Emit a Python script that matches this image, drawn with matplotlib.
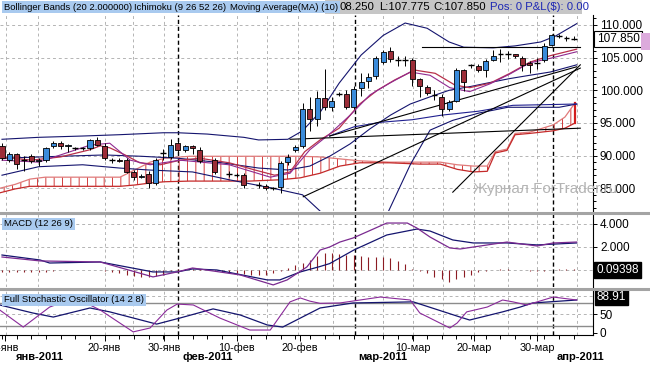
import matplotlib
matplotlib.use("Agg")
import matplotlib.pyplot as plt
from matplotlib.patches import Rectangle
from matplotlib.lines import Line2D

plt.rcParams['font.family'] = ['Liberation Sans', 'DejaVu Sans']
plt.rcParams['hatch.linewidth'] = 0.7
plt.rcParams['hatch.color'] = '#d23c3c'

# ---- candles (bar index, open, high, low, close) ----
bar_idx = [0, 1, 2, 3, 4, 5, 6, 7, 8, 9, 10, 11, 12, 13, 14, 15, 16, 17, 18, 19,
           20, 21, 22, 23, 24, 25, 26, 27, 29, 31, 32, 33, 35, 36, 37, 38, 39, 40,
           41, 42, 43, 44, 45, 46, 47, 48, 49, 50, 51, 52, 53, 54, 55, 56, 57, 58,
           59, 60, 61, 62, 63, 64, 65, 66, 67, 68, 69, 70, 71, 72, 73, 74, 75, 76,
           77, 78]
opens = [91.4, 89.3, 90.2, 89.3, 90.0, 89.1, 89.4, 91.4, 92.0, 91.4, 91.1, 91.1, 91.1, 92.4,
         91.5, 89.4, 89.4, 89.4, 87.5, 86.7, 87.2, 85.8, 90.4, 89.8, 91.9, 90.8, 91.4, 90.9,
         89.3, 87.2, 87.0, 87.0, 85.5, 85.3, 85.0, 85.2, 89.0, 90.9, 91.5, 97.1, 95.6, 98.8,
         97.5, 99.4, 99.4, 97.5, 100.3, 101.5, 102.2, 104.4, 106.0, 104.6, 104.7, 104.7, 101.7,
         100.5, 99.3, 99.0, 97.1, 98.4, 103.1, 103.8, 103.7, 103.1, 104.7, 105.5, 105.5, 105.5,
         105.0, 104.2, 104.2, 104.6, 107.0, 108.3, 108.0, 107.8]
highs = [91.9, 90.5, 90.4, 90.0, 90.3, 89.6, 91.3, 92.3, 92.2, 91.8, 91.3, 91.3, 92.6, 92.8,
         91.9, 89.7, 89.6, 89.7, 87.8, 87.2, 87.6, 89.6, 91.0, 92.6, 92.2, 91.6, 91.7, 91.3,
         89.6, 87.6, 87.3, 87.3, 85.9, 85.6, 85.2, 89.2, 90.3, 91.6, 98.0, 98.9, 99.9, 103.3,
         99.0, 99.8, 100.0, 100.6, 102.7, 102.7, 105.2, 106.2, 106.7, 105.3, 105.3, 104.9, 101.9,
         100.8, 100.1, 99.4, 98.5, 103.4, 103.3, 104.0, 104.1, 104.8, 106.1, 106.4, 106.0, 105.6,
         105.3, 104.5, 104.9, 107.3, 108.6, 108.6, 108.3, 108.25]
lows = [89.3, 89.0, 87.9, 87.6, 88.8, 88.4, 89.0, 91.2, 91.0, 90.5, 90.9, 90.9, 90.9, 91.5,
        89.3, 88.9, 89.0, 87.3, 86.3, 86.5, 85.1, 85.5, 89.4, 89.5, 90.5, 90.5, 90.2, 88.8,
        87.2, 86.7, 86.8, 85.0, 85.0, 84.7, 84.8, 84.3, 88.5, 90.6, 91.2, 93.7, 94.6, 97.0,
        96.8, 99.1, 97.1, 97.2, 99.2, 100.3, 101.8, 104.0, 104.4, 103.7, 103.7, 100.6, 99.0,
        99.3, 98.5, 96.0, 96.9, 98.2, 99.9, 103.4, 102.8, 102.0, 104.5, 104.4, 104.8, 105.0,
        102.9, 102.6, 103.3, 104.3, 106.8, 108.0, 107.6, 107.775]
closes = [89.6, 90.2, 88.7, 89.3, 89.1, 89.3, 91.1, 92.0, 91.4, 91.6, 91.1, 91.1, 92.4, 91.7,
          89.6, 89.4, 89.2, 87.5, 86.7, 86.9, 85.8, 89.3, 90.4, 91.7, 90.9, 91.4, 91.1, 89.1,
          87.5, 87.2, 87.0, 85.5, 85.5, 85.0, 85.0, 88.9, 89.8, 91.3, 97.1, 95.6, 98.8, 97.5,
          98.3, 99.4, 97.5, 100.2, 101.3, 102.0, 104.9, 105.9, 104.8, 104.6, 104.7, 101.8, 100.6,
          99.6, 99.3, 97.1, 98.2, 103.1, 101.3, 103.8, 103.1, 104.5, 105.3, 105.5, 105.5, 105.2,
          103.8, 103.9, 104.2, 106.8, 108.4, 108.3, 108.0, 107.85]

# ---- indicator lines ----
bb_up_x = [0, 5, 11, 16, 22, 24, 28, 33, 35, 39, 41, 43.5, 46, 49, 52, 55, 58, 61, 63, 67, 70, 73.5, 75.5, 78.4]
bb_up_y = [92.5, 92.8, 93.0, 93.2, 93.5, 93.5, 93.3, 92.8, 92.4, 92.5, 93.8, 96.8, 101.1, 105.4, 108.4,
           110.3, 109.5, 107.4, 106.6, 106.5, 106.8, 107.4, 108.3, 110.2]
bb_mid_x = [0, 8, 14, 19, 24, 30, 35, 39, 42, 44.7, 47.5, 50.2, 53, 55.7, 58.4, 61, 64, 66.6, 69.3, 72, 74.8, 78.4]
bb_mid_y = [89.6, 89.9, 90.1, 89.9, 89.6, 88.9, 88.1, 87.8, 88.4, 89.9, 91.8, 94.1, 96.2, 97.9, 99.0,
            100.0, 100.6, 101.2, 101.8, 102.3, 102.8, 103.9]
bb_low_x = [0, 5, 11, 16, 20, 26, 31, 37, 41, 43.5, 46, 50, 52.7, 55.7, 58.4, 61.5, 65, 69, 73.5, 76, 78.4]
bb_low_y = [87.0, 88.3, 88.6, 88.1, 87.8, 87.5, 86.3, 85.0, 84.0, 81.4, 79.4, 78.5, 81.4, 88.6, 93.9,
            95.4, 96.5, 97.4, 97.4, 97.4, 97.9]
kijun_x = [44.7, 48, 51.6, 56, 60, 65, 69.7, 78.4]
kijun_y = [93.0, 94.4, 95.1, 95.5, 96.2, 96.8, 97.7, 97.9]

ma_x = [0, 4, 8, 12, 13.4, 14.7, 16.8, 18.8, 21.6, 24.3, 27, 31, 34.5, 37.2, 39.3, 41.3, 43.4, 46,
        48.8, 51.2, 53.6, 56.3, 59.1, 61.8, 63.8, 66.6, 69.3, 72, 74.8, 78.4]
ma_y = [89.8, 89.3, 89.8, 90.9, 91.5, 91.2, 90.1, 88.9, 88.6, 89.3, 89.6, 88.9, 87.8, 87.0, 87.5, 90.6,
        92.4, 94.2, 97.9, 100.0, 101.6, 103.1, 102.6, 100.8, 100.4, 101.1, 102.6, 104.3, 105.3, 106.3]
tenkan_x = [0, 5, 12, 14.7, 17.5, 20.2, 24.3, 31, 36.6, 39.3, 42, 44.7, 47.5, 50.2, 52.9, 55.7, 58.4,
            61.1, 63.8, 66.6, 69.3, 72, 74.8, 78.4]
tenkan_y = [89.3, 89.0, 91.6, 91.9, 89.3, 88.6, 89.3, 88.6, 86.7, 87.3, 90.9, 93.3, 96.2, 99.3, 101.1,
            102.8, 102.3, 100.4, 99.8, 101.0, 102.5, 104.2, 104.9, 105.9]

cloud_x = [-0.3, 1.8, 3.8, 5.9, 12, 16.1, 18.1, 20.2, 22.2, 25.6, 33.8, 37.9, 40.7, 43.4, 46.1, 48.8,
           52.9, 57, 59.8, 62.1, 64.3, 66.2, 67.3, 68.9, 70.0, 72.0, 75.2, 76.8, 78.2]
cloud_a = [85.0, 85.6, 86.4, 86.7, 86.7, 86.7, 87.8, 89.0, 89.6, 89.9, 89.9, 89.9, 89.9, 89.8, 89.5, 89.2,
           89.0, 89.0, 89.0, 88.6, 88.4, 88.4, 90.6, 91.0, 93.4, 93.6, 94.7, 95.9, 98.1]
cloud_b = [84.3, 84.9, 85.3, 85.3, 85.3, 85.3, 85.5, 85.8, 86.0, 86.1, 86.1, 86.3, 86.6, 87.3, 88.4, 88.9,
           88.9, 88.7, 88.7, 87.9, 87.5, 87.6, 90.4, 90.8, 93.2, 93.4, 93.8, 94.2, 95.0]

# hand drawn trend lines: start bar, start price, end bar, end price
trend_x0 = [39.3, 41.1, 61.5, 44.7, 57.3]
trend_y0 = [92.5, 83.7, 84.4, 93.0, 106.6]
trend_x1 = [78.9, 78.9, 78.9, 78.4, 78.9]
trend_y1 = [94.2, 103.4, 103.9, 103.6, 106.6]

# ---- MACD ----
macd_x = [0, 5.2, 13.4, 20.6, 23.9, 26, 32.5, 37, 38.9, 41.6, 43.4, 44.7, 46.1, 47.9, 52.5, 55.3, 56.6,
          58.4, 61.1, 62.5, 64.3, 68.9, 73, 75.2, 78.4]
macd_y = [1.12, 0.78, 0.69, -0.6, -0.17, 0.17, -0.43, -1.29, -0.86, 0.26, 1.72, 1.98, 2.41, 2.76, 4.05,
          4.05, 3.62, 2.84, 1.9, 1.81, 1.98, 2.41, 2.07, 2.33, 2.41]
signal_x = [0, 5.2, 6.5, 13.4, 20.6, 23.9, 26, 29.3, 36.2, 37.9, 40.7, 43.4, 44.7, 48.0, 52.5, 56.6,
            58.4, 61.5, 64.3, 68.9, 73, 78.4]
signal_y = [1.29, 0.86, 0.6, 0.69, -0.17, -0.17, 0.09, 0.0, -0.86, -0.86, -0.17, 0.3, 0.55, 1.72, 3.02,
            3.53, 3.36, 2.59, 2.33, 2.33, 2.16, 2.33]
osma = [-0.2, -0.2, -0.2, -0.2, -0.2, -0.2, -0.15, -0.05, 0, 0, 0, 0, 0, 0, -0.1, -0.2, -0.3, -0.4,
        -0.5, -0.6, -0.6, -0.5, -0.4, -0.1, 0.05, 0.1, 0.1, 0.05, 0, -0.1, -0.2, -0.3, -0.3, -0.35,
        -0.4, -0.4, -0.4, -0.3, -0.1, 0.2, 0.4, 0.6, 0.9, 1.2, 1.5, 1.5, 1.4, 1.3, 1.3, 1.2, 1.1,
        1.1, 1.1, 1.0, 0.8, 0.5, 0.1, -0.1, -0.3, -0.6, -0.8, -1.0, -0.8, -0.6, -0.4, -0.2, -0.05,
        0, 0.05, 0.05, 0, 0, -0.05, -0.1, -0.05, 0, 0.05, 0.05, 0.09]
macd_last = 0.09398

# ---- Stochastic ----
stoch_k_x = [-0.3, 2.9, 6.5, 10, 13.4, 17.9, 20.2, 22.5, 23.9, 26.1, 29.7, 33.8, 36.6, 39.3, 40.7, 42,
             43.4, 46.1, 51.6, 55.7, 57, 61.1, 62.1, 63.4, 66.2, 68.3, 69.7, 71.6, 75.2, 78.4]
stoch_k_y = [62, 16, 70, 95, 62, 3, 13.5, 62, 78, 75.6, 40.5, 8, 8, 84, 94.5, 86, 80, 81, 97, 89, 54,
             13.5, 27, 57, 70, 89, 84, 75.6, 97, 89]
stoch_d_x = [-0.3, 4.2, 7, 12, 14.7, 21.1, 24.3, 28.8, 32.5, 36.2, 38.3, 43.4, 47.9, 56.1, 62.5, 63.8,
             68.3, 70.7, 72.4, 78.4]
stoch_d_y = [75.6, 54, 43, 67.5, 57, 24, 40.5, 65, 48.6, 21.6, 16, 67.5, 81, 84, 43, 35, 57, 70, 81, 89]
stoch_last = 88.91

# ---- axis labels ----
grid_x = [0.5, 4.9, 14, 17.9, 22.1, 32, 36.2, 40.4, 45.2, 52, 56.1, 60.2, 64.4, 69, 73, 78.4]
month_x = [24, 48.2, 75.2]
date_ticks = [0.4, 14, 22.1, 32, 40.6, 56.1, 64.4, 73]
date_labels = ['5-янв', '20-янв', '30-янв', '10-фев', '20-фев', '10-мар', '20-мар', '30-мар']
month_pos = [5.2, 28, 52, 78.9]
month_labels = ['янв-2011', 'фев-2011', 'мар-2011', 'апр-2011']
price_ticks = [85, 90, 95, 100, 105, 110]

W, H = 650, 365
fig = plt.figure(figsize=(W / 100, H / 100), dpi=100)
fig.patch.set_facecolor('white')

NAVY = '#14146e'
GRID = '#b4b4b4'


def panel(y0, y1):
    ax = fig.add_axes([0, 1 - y1 / H, 593 / W, (y1 - y0) / H])
    ax.set_xlim(-0.27, 80.63)
    ax.set_facecolor('white')
    for s in ['top', 'left', 'bottom']:
        ax.spines[s].set_visible(False)
    ax.spines['right'].set_color('black')
    ax.spines['right'].set_linewidth(0.8)
    ax.yaxis.tick_right()
    ax.tick_params(axis='y', which='both', direction='out', labelsize=8.5, pad=2, width=0.7)
    ax.tick_params(axis='y', which='major', length=3)
    ax.tick_params(axis='y', which='minor', length=2)
    ax.tick_params(axis='x', which='both', bottom=False, labelbottom=False)
    for gx in grid_x:
        ax.axvline(gx, color=GRID, lw=0.7, ls=(0, (3, 3)), zorder=0)
    for mx in month_x:
        ax.axvline(mx, color='black', lw=1.0, ls=(0, (3, 2)), zorder=1)
    return ax


# ================= main price panel =================
ax = panel(15, 211)
ax.set_ylim(81.52, 111.53)
ax.set_yticks(price_ticks)
ax.set_yticklabels(['%.3f' % p for p in price_ticks])
ax.set_yticks(range(82, 112), minor=True)
ax.set_yticklabels([], minor=True)
for p in price_ticks:
    ax.axhline(p, color=GRID, lw=0.7, ls=(0, (3, 3)), zorder=0)

ax.fill_between(cloud_x, cloud_a, cloud_b, facecolor='none', edgecolor='#d23c3c',
                hatch='||', lw=0.0, zorder=2)
ax.plot(cloud_x, cloud_a, color='#e07a7a', lw=0.9, zorder=2)
ax.plot(cloud_x, cloud_b, color='#c42a2a', lw=0.9, zorder=2)
ax.plot([cloud_x[-1], cloud_x[-1]], [cloud_b[-1], cloud_a[-1]], color='#d21e1e', lw=1.6, zorder=2)

ax.plot(bb_up_x, bb_up_y, color=NAVY, lw=0.8, zorder=3)
ax.plot(bb_mid_x, bb_mid_y, color=NAVY, lw=0.8, zorder=3)
ax.plot(bb_low_x, bb_low_y, color=NAVY, lw=0.8, zorder=3)
ax.plot(kijun_x, kijun_y, color='#202090', lw=0.8, zorder=3)
ax.plot(ma_x, ma_y, color='#b8304a', lw=0.9, zorder=3)
ax.plot(tenkan_x, tenkan_y, color='#902a90', lw=0.8, zorder=3)

for x0, y0, x1, y1 in zip(trend_x0, trend_y0, trend_x1, trend_y1):
    ax.plot([x0, x1], [y0, y1], color='black', lw=0.8, zorder=3)

for i, o, h, l, c in zip(bar_idx, opens, highs, lows, closes):
    ax.vlines(i, l, h, color='black', lw=0.7, zorder=4)
    if abs(c - o) < 0.08:
        ax.hlines(o, i - 0.38, i + 0.38, color='black', lw=1.0, zorder=5)
    else:
        col = '#3a8bdb' if c > o else '#9c2d38'
        ax.add_patch(Rectangle((i - 0.35, min(o, c)), 0.7, abs(c - o), facecolor=col,
                               edgecolor='black', lw=0.6, zorder=5))

ax.text(1.006, closes[-1], '%.3f' % closes[-1], transform=ax.get_yaxis_transform(),
        fontsize=8.5, va='center', ha='left', zorder=6,
        bbox=dict(boxstyle='square,pad=0.18', fc='white', ec='black', lw=0.8))

# ================= MACD panel =================
axm = panel(214, 287)
axm.set_ylim(-1.47, 4.83)
axm.set_yticks([2, 4])
axm.set_yticklabels(['2.000', '4.000'])
for v in [0, 2, 4]:
    axm.axhline(v, color=GRID, lw=0.7, ls=(0, (3, 3)), zorder=0)
axm.vlines(range(len(osma)), 0, osma, color='#8c1c24', lw=0.8, zorder=2)
axm.plot(signal_x, signal_y, color=NAVY, lw=0.9, zorder=3)
axm.plot(macd_x, macd_y, color='#7a2a90', lw=0.9, zorder=3)
axm.text(1.006, 0, '%.5f' % macd_last, transform=axm.get_yaxis_transform(),
         fontsize=8.5, va='center', ha='left', color='white', zorder=6,
         bbox=dict(boxstyle='square,pad=0.18', fc='black', ec='black'))

# ================= Stochastic panel =================
axs = panel(290, 335)
axs.set_ylim(-5.4, 116)
axs.set_yticks([0, 50])
axs.set_yticklabels(['0', '50'])
for v in [100, 50]:
    axs.axhline(v, color=GRID, lw=0.7, ls=(0, (3, 3)), zorder=0)
for v in [80, 20]:
    axs.axhline(v, color='#8c8c8c', lw=1.0, zorder=1)
axs.plot(stoch_d_x, stoch_d_y, color=NAVY, lw=0.9, zorder=3)
axs.plot(stoch_k_x, stoch_k_y, color='#8a2a9a', lw=0.8, zorder=3)
axs.text(1.006, stoch_last + 8, '%.2f' % stoch_last, transform=axs.get_yaxis_transform(),
         fontsize=8.5, va='center', ha='left', color='white', zorder=6,
         bbox=dict(boxstyle='square,pad=0.15', fc='black', ec='black'))

axs.spines['bottom'].set_visible(True)
axs.spines['bottom'].set_color('black')
axs.spines['bottom'].set_linewidth(0.8)
axs.tick_params(axis='x', which='both', bottom=True, direction='out', width=0.7)
axs.tick_params(axis='x', which='major', length=4, labelbottom=True, labelsize=7.8, pad=1.5)
axs.tick_params(axis='x', which='minor', length=3)
axs.set_xticks(date_ticks)
axs.set_xticklabels(date_labels)
axs.set_xticks(range(0, 80, 2), minor=True)
for mp, ml in zip(month_pos, month_labels):
    axs.text(mp, -0.5, ml, transform=axs.get_xaxis_transform(), ha='center', va='center',
             fontsize=8, fontweight='bold')

# ================= decorations =================
for yy in [212.5, 288.5]:
    fig.add_artist(Line2D([0, 1], [1 - yy / H, 1 - yy / H], transform=fig.transFigure,
                          color='#a4a4a4', lw=2.2))

fig.add_artist(Rectangle((641 / W, 1 - 50 / H), 9 / W, 17 / H, transform=fig.transFigure,
                         facecolor='#dcaadc', edgecolor='none'))

fig.add_artist(Rectangle((325 / W, 1 - 14 / H), 257 / W, 14 / H, transform=fig.transFigure,
                         facecolor='#c6c6c6', edgecolor='none'))
fig.text(339 / W, 1 - 7 / H, '08.250', fontsize=8.2, va='center')
fig.text(379 / W, 1 - 7 / H, 'L:107.775', fontsize=8.2, va='center')
fig.text(433 / W, 1 - 7 / H, 'C:107.850', fontsize=8.2, va='center')
fig.text(490 / W, 1 - 7 / H, 'Pos: 0 P&L($): 0.00', fontsize=8.2, va='center', color='#1e28b4')

lbl_box = dict(boxstyle='square,pad=0.2', fc='#a9caef', ec='none')
fig.text(4 / W, 1 - 7 / H, 'Bollinger Bands (20 2.000000)', fontsize=6.8, va='center', bbox=lbl_box)
fig.text(134 / W, 1 - 7 / H, 'Ichimoku (9 26 52 26)', fontsize=6.8, va='center', bbox=lbl_box)
fig.text(230 / W, 1 - 7 / H, 'Moving Average(MA) (10)', fontsize=6.8, va='center', bbox=lbl_box)
fig.text(4 / W, 1 - 224 / H, 'MACD (12 26 9)', fontsize=6.8, va='center', bbox=lbl_box)
fig.text(4 / W, 1 - 300 / H, 'Full Stochastic Oscillator (14 2 8)', fontsize=6.8, va='center',
         bbox=lbl_box)

fig.text(473 / W, 1 - 189 / H, 'Журнал ForTrader.ru', fontsize=11, va='center',
         color='#b4b4b4', zorder=0.5)

fig.savefig('out.png', dpi=100)
